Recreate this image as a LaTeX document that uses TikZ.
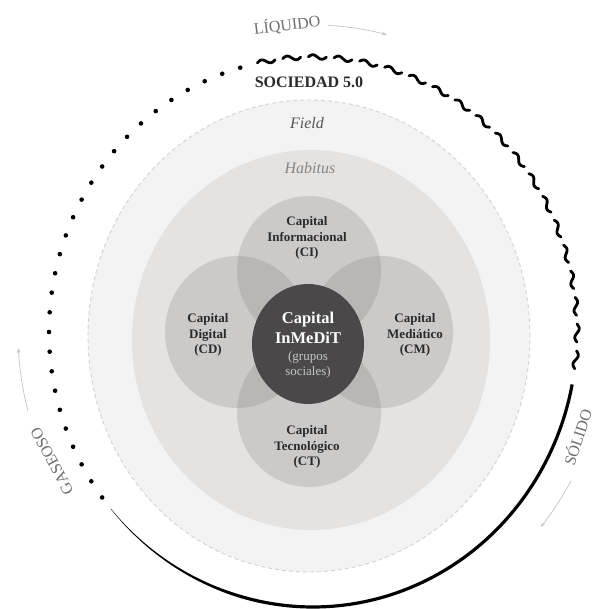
\documentclass[tikz,border=0pt]{standalone}
\usepackage{fontspec}
\setmainfont{Liberation Serif}
\usetikzlibrary{arrows.meta}
\definecolor{fieldc}{HTML}{F3F3F3}
\definecolor{fieldline}{HTML}{D2D2D2}
\definecolor{habc}{HTML}{E5E3E2}
\definecolor{petalc}{HTML}{7E7C7C}
\definecolor{darkc}{HTML}{4A4848}
\definecolor{txtc}{HTML}{2A2A2A}
\definecolor{censub}{HTML}{C6C6C6}
\definecolor{statec}{HTML}{6E6E6E}
\definecolor{arrc}{HTML}{C4C4C4}
\definecolor{fieldtxt}{HTML}{555555}
\definecolor{habtxt}{HTML}{858585}
\begin{document}
\begin{tikzpicture}[x=1pt,y=1pt,
  declare function={W(\t)=0.3+2.9*min(1,(\t-220)/35);},
  petal/.style={fill=petalc, fill opacity=0.24},
  plab/.style={align=center, font=\fontsize{13}{15.5}\selectfont\bfseries, text=txtc},
  statelab/.style={font=\fontsize{16}{19}\selectfont, text=statec, inner sep=0pt},
  flow/.style={draw=arrc, line width=0.7pt, -{Stealth[length=5pt,width=3.5pt]}},
  wave/.style={line width=2.8pt, line cap=round, draw=black}]
\fill[white] (0,0) rectangle (596,609);
\useasboundingbox (0,0) rectangle (596,609);
% field and habitus
\fill[fieldc] (309,273) ellipse [x radius=221pt, y radius=236pt];
\draw[fieldline, line width=0.9pt, dash pattern=on 4pt off 3pt] (309,273) ellipse [x radius=221pt, y radius=236pt];
\fill[habc] (311,269) ellipse [x radius=179pt, y radius=190pt];
% petals
\fill[petal] (309,339) ellipse [x radius=72pt, y radius=74pt];
\fill[petal] (309,196) ellipse [x radius=72pt, y radius=74pt];
\fill[petal] (237,277) ellipse [x radius=72pt, y radius=76pt];
\fill[petal] (381,277) ellipse [x radius=72pt, y radius=76pt];
\fill[darkc] (308,265) ellipse [x radius=56pt, y radius=60pt];
% petal labels
\node[plab] (ci) at (307,371) {Capital\\Informacional\\(CI)};
\node[plab] (cd) at (208,274) {Capital\\Digital\\(CD)};
\node[plab] (cm) at (415,274) {Capital\\Mediático\\(CM)};
\node[plab] (ct) at (307,162) {Capital\\Tecnológico\\(CT)};
\node[align=center, text=white, font=\fontsize{16.5}{20}\selectfont\bfseries] (cen) at (308,281) {Capital\\InMeDiT};
\node[align=center, text=censub, font=\fontsize{13}{15}\selectfont] (cens) at (308,244) {(grupos\\sociales)};
% ring labels
\node[font=\fontsize{16}{19}\selectfont\bfseries, text=txtc] (soc) at (309,527) {SOCIEDAD 5.0};
\node[font=\fontsize{16}{19}\selectfont\itshape, text=fieldtxt] (fld) at (307,486) {Field};
\node[font=\fontsize{16}{19}\selectfont\itshape, text=habtxt] (hab) at (310,441) {Habitus};
% outer ring: dotted part
\foreach \i in {0,...,27}{
  \fill[black] (313,277) ++({106+\i*4.111}:264pt and 275pt) circle[radius=2.3pt];
}
% outer ring: wavy part (separate tildes)
\foreach \i in {0,...,19}{
  \pgfmathsetmacro\ang{103-(\i+0.5)*5.58}
  \path (313,277) ++(\ang:264pt and 275pt) coordinate (wv\i);
  \draw[wave, shift={(wv\i)}, rotate=\ang-90] plot[domain=-1:1, samples=25, smooth] ({9*\x},{-2.2*sin(180*\x)});
}
% outer ring: solid part (tapered)
\fill[black] plot[domain=220:349, samples=150] ({313+(264+0.5*W(\x))*cos(\x)},{277+(275+0.5*W(\x))*sin(\x)})
  -- plot[domain=349:220, samples=150] ({313+(264-0.5*W(\x))*cos(\x)},{277+(275-0.5*W(\x))*sin(\x)}) -- cycle;
% states
\node[statelab, rotate=7] (liq) at (287,584) {LÍQUIDO};
\node[statelab, rotate=72] (sol) at (577,172) {SÓLIDO};
\node[statelab, rotate=118] (gas) at (52,148) {GASEOSO};
\draw[flow] (313,277) ++(87:295pt and 307pt) arc[start angle=87, end angle=75.5, x radius=295pt, y radius=307pt];
\draw[flow] (313,277) ++(-29:295pt and 307pt) arc[start angle=-29, end angle=-39.5, x radius=295pt, y radius=307pt];
\draw[flow] (313,277) ++(195:295pt and 307pt) arc[start angle=195, end angle=183, x radius=295pt, y radius=307pt];
\end{tikzpicture}
\end{document}
